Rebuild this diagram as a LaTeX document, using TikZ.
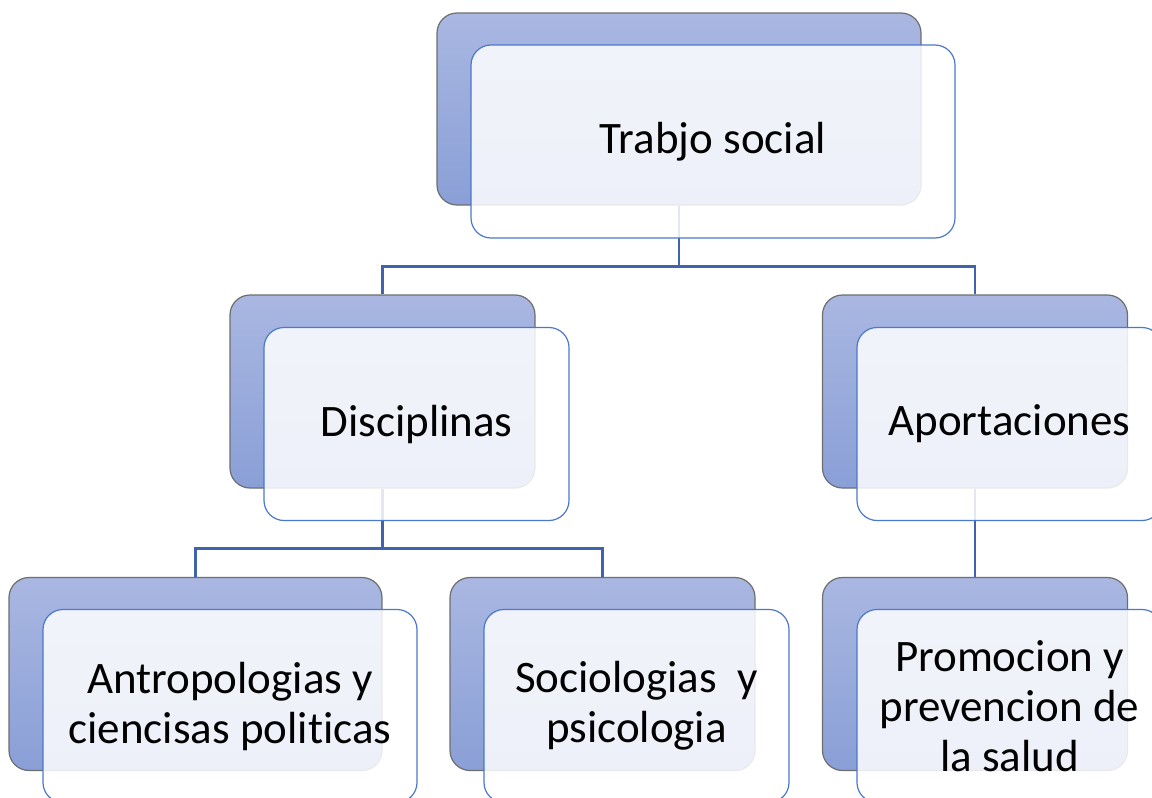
\documentclass[tikz,border=0pt]{standalone}
\usepackage{fontspec}
\setmainfont{Carlito}[Ligatures={NoCommon}]
\usetikzlibrary{calc}
\definecolor{backtop}{HTML}{A9B7E1}
\definecolor{backbot}{HTML}{8A9FD7}
\definecolor{backline}{HTML}{6E6E6E}
\definecolor{frontline}{HTML}{4A78CC}
\definecolor{connline}{HTML}{3F63AC}
\tikzset{
  backbox/.style={rectangle, rounded corners=20pt, draw=backline, line width=1.2pt,
    top color=backtop, bottom color=backbot, inner sep=0pt},
  frontbox/.style={rectangle, rounded corners=20pt, draw=frontline, line width=1.2pt,
    fill=white, fill opacity=0.85, text opacity=1, inner sep=0pt, align=center,
    font=\fontsize{45}{50}\selectfont},
  wide/.style={minimum width=484pt, minimum height=192pt},
  narrow/.style={minimum width=305pt, minimum height=193pt},
  conn/.style={draw=connline, line width=2.6pt},
}
\begin{document}
\begin{tikzpicture}[x=1pt,y=-1pt]
\useasboundingbox (0,0) rectangle (1152,798);
\clip (0,0) rectangle (1152,798);
\fill[white] (0,0) rectangle (1152,798);
% back boxes
\node[backbox, wide] (tsb) at (679,109) {};
\node[backbox, narrow] (dib) at (382.5,391.5) {};
\node[backbox, narrow] (apb) at (975,391.5) {};
\node[backbox, narrow, minimum width=373pt] (anb) at (195.5,674) {};
\node[backbox, narrow] (sob) at (602.5,674) {};
\node[backbox, narrow] (prb) at (975,674) {};
% connectors
\draw[conn] (tsb.south) -- ++(0,61) -| (dib.north);
\draw[conn] (tsb.south) -- ++(0,61) -| (apb.north);
\draw[conn] (dib.south) -- ++(0,60) -| (anb.north);
\draw[conn] (dib.south) -- ++(0,60) -| (sob.north);
\draw[conn] (apb.south) -- (prb.north);
% front boxes
\node[frontbox, wide, minimum height=193pt] (ts) at (713,141.5) {Trabjo social};
\node[frontbox, narrow] (di) at (416.5,424) {Disciplinas};
\node[frontbox, narrow] (ap) at (1009.5,424) {Aportaciones};
\node[frontbox, narrow, minimum width=374pt] (an) at (230,706) {Antropologias y\\ciencisas politicas};
\node[frontbox, narrow] (so) at (636.5,706) {Sociologias\ \ y\\psicologia};
\node[frontbox, narrow] (pr) at (1009.5,706) {Promocion y\\prevencion de\\la salud};
\end{tikzpicture}
\end{document}
